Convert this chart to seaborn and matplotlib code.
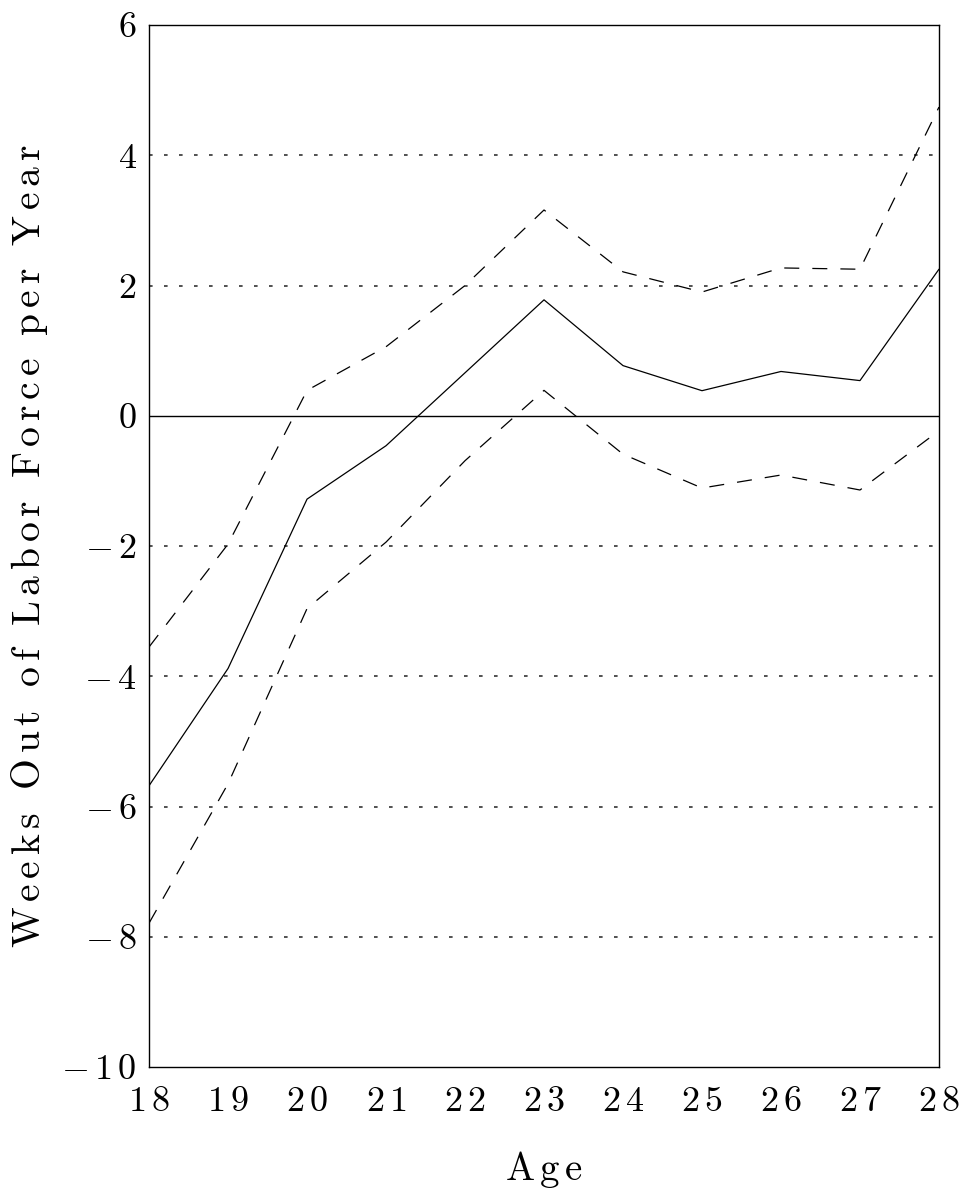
import matplotlib
matplotlib.use("Agg")
import matplotlib.pyplot as plt
import seaborn as sns
import pandas as pd

# Age profile of weeks out of the labor force, with upper and lower bands
ages = [18, 19, 20, 21, 22, 23, 24, 25, 26, 27, 28]
estimate = [-5.68, -3.88, -1.28, -0.46, 0.66, 1.78, 0.77, 0.385, 0.68, 0.54, 2.25]
upper_band = [-3.55, -1.97, 0.39, 1.06, 2.00, 3.16, 2.21, 1.90, 2.27, 2.25, 4.74]
lower_band = [-7.79, -5.65, -2.96, -1.94, -0.69, 0.39, -0.59, -1.11, -0.91, -1.14, -0.23]

y_ticks = [-10, -8, -6, -4, -2, 0, 2, 4, 6]
x_ticks = ages
x_title = "Age"
y_title = "Weeks Out of Labor Force per Year"

sns.set_theme(style="white")
plt.rcParams["font.family"] = ["cmr10", "DejaVu Serif"]
plt.rcParams["mathtext.fontset"] = "cm"
plt.rcParams["axes.unicode_minus"] = False
plt.rcParams["lines.scale_dashes"] = False


def spaced_math(value):
    """Typeset a number with a little tracking between its glyphs."""
    return "$" + r"\,".join(str(value)) + "$"


def tracked(text):
    """Roman text with a thin space between letters."""
    parts = [r"\ " if c == " " else c for c in text]
    return r"$\mathrm{" + r"\,".join(parts) + "}$"


df = pd.DataFrame({"Age": ages, "est": estimate, "hi": upper_band, "lo": lower_band})

fig = plt.figure(figsize=(9.68, 11.97), dpi=100)
ax = fig.add_axes([0.154, 0.1086, 0.816, 0.8705])

# reference lines across the plot
for v in y_ticks:
    if v in (-10, 6):
        continue
    if v == 0:
        ax.axhline(0, color="black", lw=1.0, zorder=1)
    else:
        ax.axhline(v, color="#333333", lw=1.2, dashes=(2.6, 8.2), zorder=1)

sns.lineplot(data=df, x="Age", y="est", color="black", lw=0.9, ax=ax)
sns.lineplot(data=df, x="Age", y="hi", color="black", lw=0.9, ax=ax)
ax.lines[-1].set_dashes((10.8, 9.4))
sns.lineplot(data=df, x="Age", y="lo", color="black", lw=0.9, ax=ax)
ax.lines[-1].set_dashes((10.8, 9.4))

ax.set_xlim(18, 28)
ax.set_ylim(-10, 6)
ax.set_xticks(x_ticks)
ax.set_xticklabels([spaced_math(a) for a in x_ticks])
ax.set_yticks(y_ticks)
ax.set_yticklabels([spaced_math(v) for v in y_ticks])
ax.tick_params(axis="both", length=0, labelsize=26, colors="black")
ax.tick_params(axis="y", pad=9)
ax.tick_params(axis="x", pad=14)

for s in ax.spines.values():
    s.set_color("black")
    s.set_linewidth(1.0)
    s.set_visible(True)

ax.set_xlabel(tracked(x_title), fontsize=28, labelpad=22, color="black")
ax.set_ylabel(tracked(y_title), fontsize=28.5, labelpad=8, color="black")

fig.savefig("out.png", dpi=100, facecolor="white")
